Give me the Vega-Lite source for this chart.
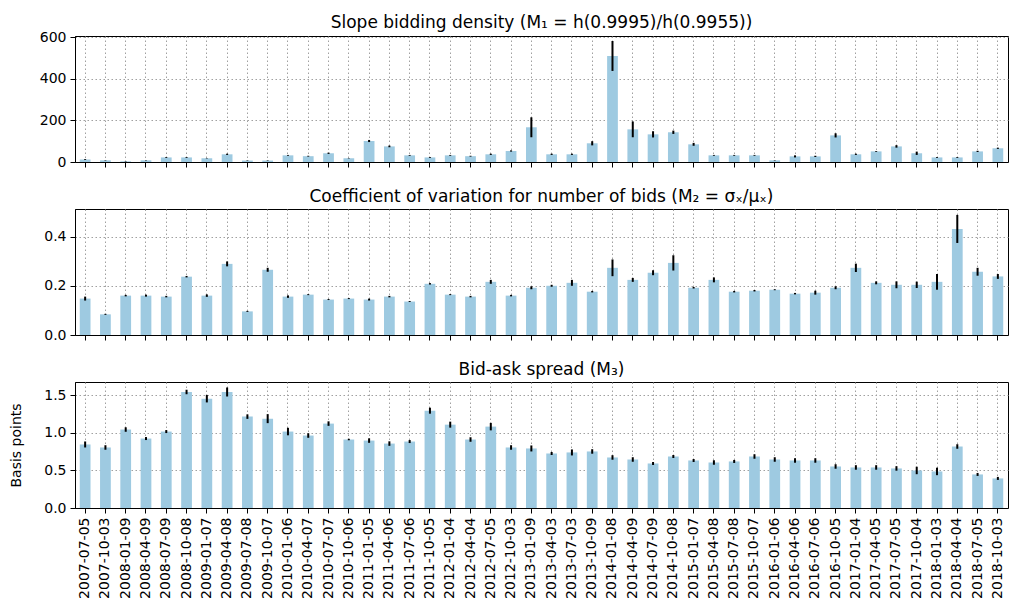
{
  "$schema": "https://vega.github.io/schema/vega-lite/v6.json",
  "padding": {"left": 9, "top": 13, "right": 0, "bottom": 0},
  "background": "white",
  "spacing": 17,
  "config": {
    "font": "DejaVu Sans",
    "view": {"stroke": "black", "strokeWidth": 1},
    "title": {"fontSize": 17, "fontWeight": "normal", "color": "black", "offset": 3, "font": "DejaVu Sans"},
    "axis": {
      "labelFont": "DejaVu Sans", "labelFontSize": 14, "labelColor": "black",
      "titleFont": "DejaVu Sans", "titleFontSize": 14, "titleFontWeight": "normal", "titleColor": "black",
      "domainColor": "black", "tickColor": "black", "tickSize": 5, "labelPadding": 4,
      "grid": true, "gridColor": "#a0a0a0", "gridDash": [1.5, 2.5], "gridWidth": 1, "zindex": 1
    }
  },
  "data": {"values": [
    {"date":"2007-07-05","m1":12,"m1e":2,"m2":0.148,"m2e":0.008,"m3":0.846,"m3e":0.04},
    {"date":"2007-10-03","m1":8,"m1e":1,"m2":0.084,"m2e":0.002,"m3":0.806,"m3e":0.03},
    {"date":"2008-01-09","m1":3,"m1e":1,"m2":0.160,"m2e":0.003,"m3":1.045,"m3e":0.03},
    {"date":"2008-04-09","m1":8,"m1e":1,"m2":0.160,"m2e":0.004,"m3":0.925,"m3e":0.02},
    {"date":"2008-07-09","m1":22,"m1e":2,"m2":0.156,"m2e":0.003,"m3":1.018,"m3e":0.02},
    {"date":"2008-10-08","m1":22,"m1e":2,"m2":0.237,"m2e":0.003,"m3":1.545,"m3e":0.03},
    {"date":"2009-01-07","m1":18,"m1e":1,"m2":0.160,"m2e":0.005,"m3":1.456,"m3e":0.05},
    {"date":"2009-04-08","m1":37,"m1e":3,"m2":0.289,"m2e":0.01,"m3":1.545,"m3e":0.06},
    {"date":"2009-07-08","m1":7,"m1e":1,"m2":0.096,"m2e":0.002,"m3":1.217,"m3e":0.03},
    {"date":"2009-10-07","m1":7,"m1e":1,"m2":0.265,"m2e":0.008,"m3":1.19,"m3e":0.06},
    {"date":"2010-01-06","m1":32,"m1e":2,"m2":0.156,"m2e":0.005,"m3":1.018,"m3e":0.05},
    {"date":"2010-04-07","m1":28,"m1e":2,"m2":0.164,"m2e":0.002,"m3":0.965,"m3e":0.03},
    {"date":"2010-07-07","m1":42,"m1e":3,"m2":0.144,"m2e":0.002,"m3":1.124,"m3e":0.03},
    {"date":"2010-10-06","m1":18,"m1e":1,"m2":0.148,"m2e":0.002,"m3":0.912,"m3e":0.01},
    {"date":"2011-01-05","m1":101,"m1e":5,"m2":0.144,"m2e":0.004,"m3":0.898,"m3e":0.03},
    {"date":"2011-04-06","m1":75,"m1e":4,"m2":0.156,"m2e":0.003,"m3":0.858,"m3e":0.03},
    {"date":"2011-07-06","m1":32,"m1e":2,"m2":0.136,"m2e":0.002,"m3":0.885,"m3e":0.02},
    {"date":"2011-10-05","m1":22,"m1e":2,"m2":0.208,"m2e":0.003,"m3":1.296,"m3e":0.04},
    {"date":"2012-01-04","m1":32,"m1e":2,"m2":0.164,"m2e":0.002,"m3":1.11,"m3e":0.04},
    {"date":"2012-04-04","m1":28,"m1e":2,"m2":0.156,"m2e":0.003,"m3":0.912,"m3e":0.03},
    {"date":"2012-07-05","m1":37,"m1e":3,"m2":0.216,"m2e":0.008,"m3":1.084,"m3e":0.05},
    {"date":"2012-10-03","m1":53,"m1e":3,"m2":0.160,"m2e":0.003,"m3":0.806,"m3e":0.03},
    {"date":"2013-01-09","m1":167,"m1e":48,"m2":0.192,"m2e":0.006,"m3":0.793,"m3e":0.04},
    {"date":"2013-04-03","m1":37,"m1e":3,"m2":0.200,"m2e":0.004,"m3":0.726,"m3e":0.02},
    {"date":"2013-07-03","m1":37,"m1e":3,"m2":0.212,"m2e":0.012,"m3":0.74,"m3e":0.04},
    {"date":"2013-10-09","m1":90,"m1e":10,"m2":0.176,"m2e":0.003,"m3":0.753,"m3e":0.03},
    {"date":"2014-01-08","m1":510,"m1e":72,"m2":0.273,"m2e":0.034,"m3":0.673,"m3e":0.03},
    {"date":"2014-04-09","m1":157,"m1e":38,"m2":0.224,"m2e":0.008,"m3":0.646,"m3e":0.03},
    {"date":"2014-07-09","m1":133,"m1e":15,"m2":0.253,"m2e":0.01,"m3":0.593,"m3e":0.02},
    {"date":"2014-10-08","m1":143,"m1e":8,"m2":0.293,"m2e":0.031,"m3":0.686,"m3e":0.02},
    {"date":"2015-01-07","m1":85,"m1e":7,"m2":0.192,"m2e":0.003,"m3":0.633,"m3e":0.02},
    {"date":"2015-04-08","m1":32,"m1e":2,"m2":0.224,"m2e":0.01,"m3":0.606,"m3e":0.03},
    {"date":"2015-07-08","m1":32,"m1e":2,"m2":0.176,"m2e":0.003,"m3":0.62,"m3e":0.02},
    {"date":"2015-10-07","m1":32,"m1e":2,"m2":0.180,"m2e":0.003,"m3":0.686,"m3e":0.03},
    {"date":"2016-01-06","m1":8,"m1e":1,"m2":0.184,"m2e":0.002,"m3":0.646,"m3e":0.03},
    {"date":"2016-04-06","m1":27,"m1e":5,"m2":0.168,"m2e":0.003,"m3":0.633,"m3e":0.03},
    {"date":"2016-07-06","m1":27,"m1e":3,"m2":0.172,"m2e":0.008,"m3":0.633,"m3e":0.03},
    {"date":"2016-10-05","m1":128,"m1e":10,"m2":0.192,"m2e":0.006,"m3":0.553,"m3e":0.03},
    {"date":"2017-01-04","m1":37,"m1e":3,"m2":0.273,"m2e":0.017,"m3":0.54,"m3e":0.03},
    {"date":"2017-04-05","m1":51,"m1e":2,"m2":0.212,"m2e":0.006,"m3":0.54,"m3e":0.03},
    {"date":"2017-07-05","m1":75,"m1e":6,"m2":0.204,"m2e":0.014,"m3":0.527,"m3e":0.03},
    {"date":"2017-10-04","m1":42,"m1e":8,"m2":0.204,"m2e":0.013,"m3":0.5,"m3e":0.05},
    {"date":"2018-01-03","m1":22,"m1e":2,"m2":0.216,"m2e":0.032,"m3":0.487,"m3e":0.05},
    {"date":"2018-04-04","m1":22,"m1e":2,"m2":0.431,"m2e":0.057,"m3":0.819,"m3e":0.03},
    {"date":"2018-07-05","m1":51,"m1e":3,"m2":0.257,"m2e":0.016,"m3":0.447,"m3e":0.02},
    {"date":"2018-10-03","m1":66,"m1e":3,"m2":0.238,"m2e":0.01,"m3":0.394,"m3e":0.02}
  ]},
  "vconcat": [
    {
      "width": 933, "height": 126,
      "title": {"text": "Slope bidding density (M₁ = h(0.9995)/h(0.9955))", "offset": -2},
      "encoding": {
        "x": {"field": "date", "type": "ordinal", "sort": null,
              "scale": {"paddingInner": 0.47, "paddingOuter": 0.235},
              "axis": {"labels": false, "title": null}}
      },
      "layer": [
        {"mark": {"type": "bar", "color": "#9ecae1"},
         "encoding": {"y": {"field": "m1", "type": "quantitative", "scale": {"domain": [0, 606], "nice": false},
                            "axis": {"values": [0, 200, 400, 600], "title": null}}}},
        {"mark": {"type": "errorbar", "color": "black", "thickness": 2},
         "encoding": {"y": {"field": "m1", "type": "quantitative", "title": null}, "yError": {"field": "m1e"}}}
      ]
    },
    {
      "width": 933, "height": 126,
      "title": "Coefficient of variation for number of bids (M₂ = σₓ/μₓ)",
      "encoding": {
        "x": {"field": "date", "type": "ordinal", "sort": null,
              "scale": {"paddingInner": 0.47, "paddingOuter": 0.235},
              "axis": {"labels": false, "title": null}}
      },
      "layer": [
        {"mark": {"type": "bar", "color": "#9ecae1"},
         "encoding": {"y": {"field": "m2", "type": "quantitative", "scale": {"domain": [0, 0.512], "nice": false},
                            "axis": {"values": [0, 0.2, 0.4], "format": ".1f", "title": null}}}},
        {"mark": {"type": "errorbar", "color": "black", "thickness": 2},
         "encoding": {"y": {"field": "m2", "type": "quantitative", "title": null}, "yError": {"field": "m2e"}}}
      ]
    },
    {
      "width": 933, "height": 126,
      "title": "Bid-ask spread (M₃)",
      "encoding": {
        "x": {"field": "date", "type": "ordinal", "sort": null,
              "scale": {"paddingInner": 0.47, "paddingOuter": 0.235},
              "axis": {"labelAngle": -90, "title": null}}
      },
      "layer": [
        {"mark": {"type": "bar", "color": "#9ecae1"},
         "encoding": {"y": {"field": "m3", "type": "quantitative", "title": "Basis points", "scale": {"domain": [0, 1.678], "nice": false},
                            "axis": {"values": [0, 0.5, 1.0, 1.5], "format": ".1f", "title": "Basis points", "titlePadding": 20}}}},
        {"mark": {"type": "errorbar", "color": "black", "thickness": 2},
         "encoding": {"y": {"field": "m3", "type": "quantitative", "title": "Basis points"}, "yError": {"field": "m3e"}}}
      ]
    }
  ]
}
